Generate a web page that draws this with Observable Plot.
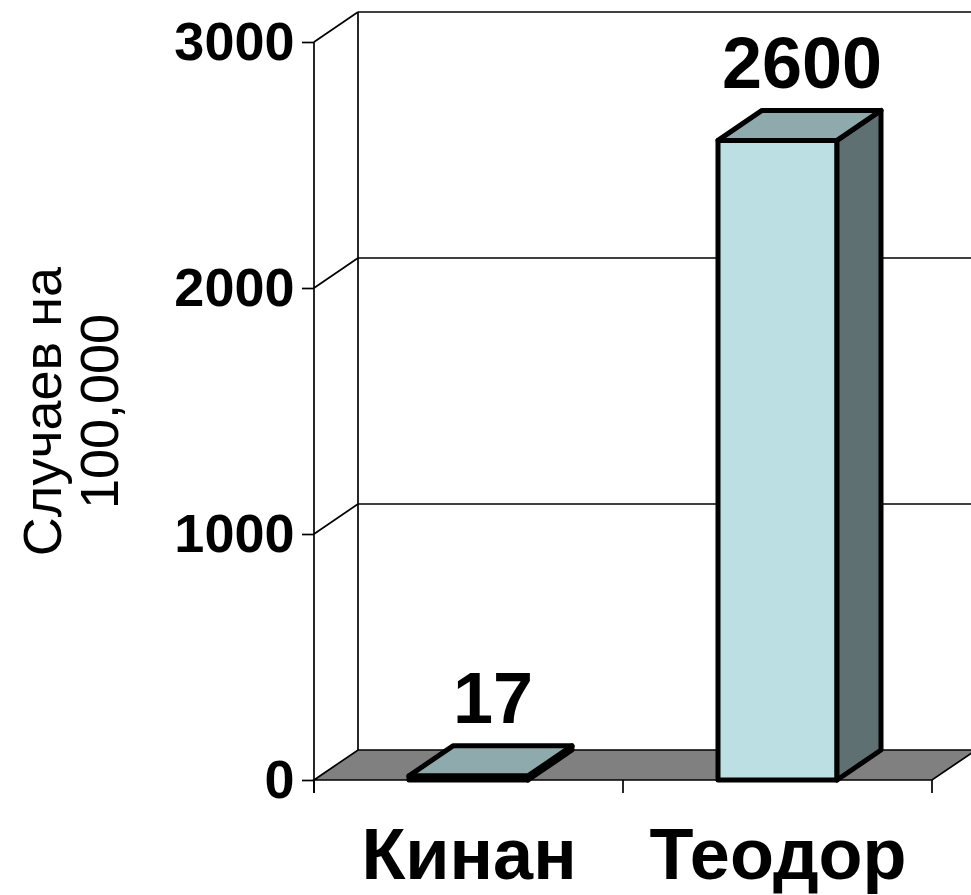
<!DOCTYPE html>
<html>
<head>
<meta charset="utf-8">
<script src="https://cdn.jsdelivr.net/npm/d3@7"></script>
<script src="https://cdn.jsdelivr.net/npm/@observablehq/plot@0.6"></script>
<style>
  html, body { margin: 0; padding: 0; background: #ffffff; }
</style>
</head>
<body>
<div id="chart"></div>
<script>
// ---- data ----
const categories = ["Кинан", "Теодор"];
const values = [17, 2600];
const yTicks = [0, 1000, 2000, 3000];
const yTitle = "Случаев на\n100,000";

const data = categories.map((c, i) => ({name: c, value: values[i]}));

// ---- style constants (3D projection offsets in px) ----
const DX = 44, DY = -30;
const INSET = 95;
const FRONT = "#BBDFE3", TOP = "#8FAAAC", SIDE = "#5F7073", FLOOR = "#808080";

// walls, floor, gridlines and axis lines, positioned with the plot's scales
function backdrop(index, scales, vals, dims) {
  const x = scales.x, y = scales.y;
  const left = dims.marginLeft, right = dims.width - dims.marginRight;
  const y0 = y(0), yMax = y(d3.max(yTicks));
  const g = d3.create("svg:g")
    .attr("fill", "none").attr("stroke", "black").attr("stroke-width", 1.7);
  g.append("path").attr("fill", FLOOR)
    .attr("d", `M${left},${y0}L${right},${y0}L${right + DX},${y0 + DY}L${left + DX},${y0 + DY}Z`);
  g.append("line").attr("x1", left + DX).attr("x2", left + DX)
    .attr("y1", yMax + DY).attr("y2", y0 + DY);
  for (const t of yTicks) {
    if (t === 0) continue;
    g.append("line").attr("x1", left).attr("y1", y(t)).attr("x2", left + DX).attr("y2", y(t) + DY);
    g.append("line").attr("x1", left + DX).attr("y1", y(t) + DY).attr("x2", right + DX).attr("y2", y(t) + DY);
  }
  // front value axis line
  g.append("line").attr("x1", left).attr("x2", left).attr("y1", yMax).attr("y2", y0 + 13);
  // category boundaries ticks
  const bounds = categories.map(c => x(c)).concat([x(categories[categories.length - 1]) + x.bandwidth()]);
  for (const b of bounds) {
    g.append("line").attr("x1", b).attr("x2", b).attr("y1", y0).attr("y2", y0 + 13);
  }
  return g.node();
}

// top and side faces of the bars
function barFaces(index, scales, vals, dims) {
  const x = scales.x, y = scales.y;
  const g = d3.create("svg:g")
    .attr("stroke", "black").attr("stroke-width", 5).attr("stroke-linejoin", "round");
  for (const d of data) {
    const x0 = x(d.name) + INSET, x1 = x(d.name) + x.bandwidth() - INSET;
    const yt = y(d.value), yb = y(0);
    g.append("path").attr("fill", SIDE)
      .attr("d", `M${x1},${yt}L${x1 + DX},${yt + DY}L${x1 + DX},${yb + DY}L${x1},${yb}Z`);
    g.append("path").attr("fill", TOP)
      .attr("d", `M${x0},${yt}L${x1},${yt}L${x1 + DX},${yt + DY}L${x0 + DX},${yt + DY}Z`);
  }
  return g.node();
}

const chart = Plot.plot({
  width: 971,
  height: 895,
  marginLeft: 314,
  marginRight: 39,
  marginTop: 42,
  marginBottom: 115,
  style: {fontFamily: "'Liberation Sans', Arial, sans-serif", background: "#ffffff", color: "black"},
  x: {type: "band", domain: categories, padding: 0},
  y: {domain: [0, 3000]},
  marks: [
    backdrop,
    Plot.barY(data, {x: "name", y: "value", insetLeft: INSET, insetRight: INSET,
      fill: FRONT, stroke: "black", strokeWidth: 5, strokeLinejoin: "round"}),
    barFaces,
    Plot.axisY(yTicks, {tickSize: 12, tickPadding: 8, fontSize: 54, fontWeight: "bold",
      tickFormat: d => String(d), label: null, strokeWidth: 1.7}),
    Plot.axisX({tickSize: 0, tickPadding: 47, fontSize: 72, fontWeight: "bold", label: null}),
    Plot.text(data, {x: "name", y: "value", text: d => String(d.value), dx: 24, dy: -76,
      fontSize: 72, fontWeight: "bold", fill: "black"}),
    Plot.text([yTitle], {text: d => d, frameAnchor: "left", dx: -243, rotate: -90,
      fontSize: 54, lineHeight: 1.06, textAnchor: "middle", fill: "black"})
  ]
});
document.getElementById("chart").append(chart);
</script>
</body>
</html>
